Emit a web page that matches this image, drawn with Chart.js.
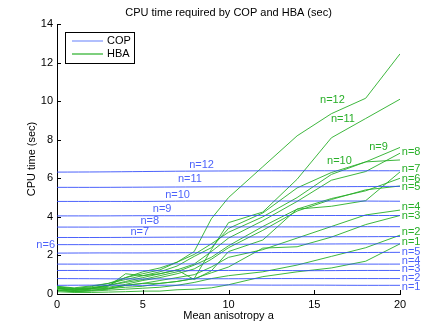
<!DOCTYPE html>
<html>
<head>
<meta charset="utf-8">
<title>CPU time required by COP and HBA</title>
<script src="https://cdn.jsdelivr.net/npm/chart.js@4.4.1/dist/chart.umd.min.js"></script>
<style>
  html, body { margin: 0; padding: 0; background: #fff; }
  #wrap { width: 442px; height: 331px; }
</style>
</head>
<body>
<div id="wrap"><canvas id="cpuChart" width="442" height="331"></canvas></div>
<script>
// Data

// mean anisotropy sample points
const copX = [0, 2.5, 5, 7.5, 10, 12.5, 15, 17.5, 20];
const hbaX = [0, 1, 2, 3, 4, 5, 6, 7, 8, 9, 10, 12, 14, 16, 18, 20];

// COP cpu time (sec), n = 1..12
const cop1  = [0.45, 0.46, 0.45, 0.46, 0.47, 0.46, 0.46, 0.45, 0.45];
const cop2  = [0.80, 0.79, 0.78, 0.79, 0.79, 0.80, 0.80, 0.80, 0.80];
const cop3  = [1.22, 1.22, 1.21, 1.21, 1.22, 1.22, 1.21, 1.22, 1.22];
const cop4  = [1.55, 1.55, 1.56, 1.56, 1.56, 1.56, 1.56, 1.55, 1.55];
const cop5  = [2.12, 2.13, 2.13, 2.14, 2.14, 2.15, 2.15, 2.15, 2.16];
const cop6  = [2.56, 2.56, 2.56, 2.57, 2.58, 2.58, 2.59, 2.60, 2.60];
const cop7  = [2.93, 2.93, 2.94, 2.95, 2.95, 2.96, 2.97, 2.97, 2.98];
const cop8  = [3.47, 3.47, 3.48, 3.48, 3.48, 3.48, 3.48, 3.49, 3.49];
const cop9  = [4.05, 4.05, 4.06, 4.06, 4.07, 4.07, 4.07, 4.07, 4.07];
const cop10 = [4.80, 4.80, 4.80, 4.82, 4.82, 4.82, 4.82, 4.82, 4.81];
const cop11 = [5.53, 5.53, 5.54, 5.55, 5.56, 5.56, 5.56, 5.57, 5.58];
const cop12 = [6.32, 6.33, 6.35, 6.37, 6.38, 6.39, 6.39, 6.39, 6.39];

// HBA cpu time (sec), n = 1..12
const hba1  = [0.12, 0.08, 0.08, 0.10, 0.12, 0.15, 0.15, 0.22, 0.25, 0.32, 0.48, 0.90, 1.15, 1.35, 1.70, 2.60];
const hba2  = [0.18, 0.12, 0.15, 0.20, 0.25, 0.30, 0.35, 0.45, 0.60, 0.80, 0.95, 1.15, 1.50, 1.95, 2.40, 3.05];
const hba3  = [0.22, 0.15, 0.20, 0.28, 0.35, 0.40, 0.55, 0.65, 0.80, 1.10, 1.40, 2.38, 2.45, 2.95, 3.60, 4.07];
const hba4  = [0.28, 0.18, 0.25, 0.30, 0.45, 0.55, 0.70, 0.85, 1.00, 1.40, 1.90, 2.30, 2.90, 3.50, 4.10, 4.35];
const hba5  = [0.32, 0.22, 0.28, 0.35, 0.50, 0.70, 0.85, 1.05, 1.30, 1.80, 2.40, 3.30, 4.30, 4.90, 5.40, 5.60];
const hba6  = [0.38, 0.28, 0.32, 0.45, 0.60, 0.75, 0.95, 1.15, 1.50, 1.90, 2.50, 3.50, 4.40, 4.95, 5.35, 6.00];
const hba7  = [0.30, 0.22, 0.28, 0.40, 1.05, 0.95, 1.05, 1.25, 0.75, 1.20, 2.20, 2.80, 4.40, 4.55, 4.84, 6.33];
const hba8  = [0.28, 0.25, 0.32, 0.45, 0.65, 0.85, 1.05, 1.25, 1.55, 2.20, 2.90, 3.80, 4.80, 5.90, 6.35, 7.30];
const hba9  = [0.35, 0.28, 0.38, 0.55, 0.75, 0.95, 1.15, 1.45, 1.95, 2.40, 3.40, 4.20, 5.50, 6.30, 6.85, 7.60];
const hba10 = [0.40, 0.32, 0.42, 0.55, 0.85, 1.15, 1.35, 1.65, 2.05, 2.60, 3.20, 4.00, 5.00, 6.20, 6.85, 6.95];
const hba11 = [0.20, 0.12, 0.18, 0.25, 0.45, 0.55, 0.55, 0.65, 0.80, 2.30, 3.70, 4.25, 5.95, 8.10, 9.10, 10.10];
const hba12 = [0.30, 0.18, 0.28, 0.45, 0.85, 1.05, 1.25, 1.65, 2.20, 3.90, 5.00, 6.60, 8.20, 9.35, 10.15, 12.45];

const copSeries = [cop1, cop2, cop3, cop4, cop5, cop6, cop7, cop8, cop9, cop10, cop11, cop12];
const hbaSeries = [hba1, hba2, hba3, hba4, hba5, hba6, hba7, hba8, hba9, hba10, hba11, hba12];

// axis ticks
const xTicks = [0, 5, 10, 15, 20];
const yTicks = [0, 2, 4, 6, 8, 10, 12, 14];

// curve labels, placed in data units [text, a, time]
const copLabels = [
    ['n=12', 8.43, 6.70], ['n=11', 7.75, 5.96], ['n=10', 7.03, 5.16],
    ['n=9', 6.13, 4.41], ['n=8', 5.41, 3.80], ['n=7', 4.83, 3.21],
    ['n=6', -0.66, 2.56],
    ['n=5', 20.65, 2.18], ['n=4', 20.65, 1.71], ['n=3', 20.65, 1.28],
    ['n=2', 20.65, 0.83], ['n=1', 20.65, 0.36]
];
const hbaLabels = [
    ['n=12', 16.06, 10.07], ['n=11', 16.67, 9.09], ['n=10', 16.47, 6.90],
    ['n=9', 18.75, 7.64], ['n=8', 20.65, 7.36], ['n=7', 20.65, 6.46],
    ['n=6', 20.65, 5.99], ['n=5', 20.65, 5.56], ['n=4', 20.65, 4.51],
    ['n=3', 20.65, 4.04], ['n=2', 20.65, 3.21], ['n=1', 20.65, 2.70]
];

const COP_COLOR = 'rgba(45, 70, 250, 0.85)';
const HBA_COLOR = 'rgb(40, 175, 40)';
const FONT = '"Liberation Sans", Arial, Helvetica, sans-serif';

function toPoints(xs, ys) {
    return xs.map((x, i) => ({ x: x, y: ys[i] }));
}

const datasets = [];
copSeries.forEach((ys, i) => {
    datasets.push({
        label: 'COP n=' + (i + 1),
        data: toPoints(copX, ys),
        borderColor: COP_COLOR,
        borderWidth: 1,
        pointRadius: 0,
        tension: 0.3,
        fill: false
    });
});
hbaSeries.forEach((ys, i) => {
    datasets.push({
        label: 'HBA n=' + (i + 1),
        data: toPoints(hbaX, ys),
        borderColor: HBA_COLOR,
        borderWidth: 0.9,
        pointRadius: 0,
        tension: 0,
        fill: false
    });
});

// Title, axis titles, inward ticks, curve labels and legend box (MATLAB look)
const matlabDecor = {
    id: 'matlabDecor',
    afterDatasetsDraw(chart) {
        const ctx = chart.ctx;
        const xs = chart.scales.x;
        const ys = chart.scales.y;
        const area = chart.chartArea;
        ctx.save();

        // inward tick marks
        ctx.strokeStyle = '#000';
        ctx.lineWidth = 1;
        ctx.beginPath();
        xTicks.forEach(t => {
            const px = Math.round(xs.getPixelForValue(t)) + 0.5;
            ctx.moveTo(px, area.bottom);
            ctx.lineTo(px, area.bottom - 4);
        });
        yTicks.forEach(t => {
            const py = Math.round(ys.getPixelForValue(t)) + 0.5;
            ctx.moveTo(area.left, py);
            ctx.lineTo(area.left + 4, py);
        });
        ctx.stroke();

        // curve labels
        ctx.font = '11px ' + FONT;
        ctx.textAlign = 'center';
        ctx.textBaseline = 'middle';
        ctx.fillStyle = COP_COLOR;
        copLabels.forEach(l => ctx.fillText(l[0], xs.getPixelForValue(l[1]), ys.getPixelForValue(l[2])));
        ctx.fillStyle = HBA_COLOR;
        hbaLabels.forEach(l => ctx.fillText(l[0], xs.getPixelForValue(l[1]), ys.getPixelForValue(l[2])));

        // legend
        const lx = area.left + 8, ly = area.top + 8, lw = 69, lh = 31;
        ctx.fillStyle = '#fff';
        ctx.fillRect(lx, ly, lw, lh);
        ctx.strokeStyle = '#000';
        ctx.strokeRect(lx + 0.5, ly + 0.5, lw, lh);
        ctx.lineWidth = 1.2;
        ctx.strokeStyle = 'rgba(90, 120, 250, 0.8)';
        ctx.beginPath();
        ctx.moveTo(lx + 7, ly + 9);
        ctx.lineTo(lx + 38, ly + 9);
        ctx.stroke();
        ctx.strokeStyle = HBA_COLOR;
        ctx.beginPath();
        ctx.moveTo(lx + 7, ly + 22);
        ctx.lineTo(lx + 38, ly + 22);
        ctx.stroke();
        ctx.fillStyle = '#000';
        ctx.textAlign = 'left';
        ctx.fillText('COP', lx + 42, ly + 9);
        ctx.fillText('HBA', lx + 42, ly + 22);

        // title and axis titles
        ctx.textAlign = 'center';
        ctx.font = '11px ' + FONT;
        ctx.fillText('CPU time required by COP and HBA (sec)', (area.left + area.right) / 2, 13);
        ctx.fillText('Mean anisotropy a', (area.left + area.right) / 2, 316);
        ctx.translate(32, (area.top + area.bottom) / 2);
        ctx.rotate(-Math.PI / 2);
        ctx.fillText('CPU time (sec)', 0, 0);
        ctx.restore();
    }
};

new Chart(document.getElementById('cpuChart').getContext('2d'), {
    type: 'line',
    data: { datasets: datasets },
    options: {
        responsive: false,
        animation: false,
        events: [],
        layout: { padding: { left: 12, right: 42, top: 24, bottom: 0 } },
        plugins: {
            legend: { display: false },
            tooltip: { enabled: false }
        },
        scales: {
            x: {
                type: 'linear',
                min: 0,
                max: 20,
                afterFit: s => { s.height = 37; },
                afterBuildTicks: s => { s.ticks = xTicks.map(v => ({ value: v })); },
                grid: { display: false, drawTicks: false },
                border: { display: true, color: '#000', width: 1 },
                ticks: { color: '#000', padding: 4, maxRotation: 0, font: { family: FONT, size: 11 } }
            },
            y: {
                type: 'linear',
                min: 0,
                max: 14,
                afterFit: s => { s.width = 45; },
                afterBuildTicks: s => { s.ticks = yTicks.map(v => ({ value: v })); },
                grid: { display: false, drawTicks: false },
                border: { display: true, color: '#000', width: 1 },
                ticks: { color: '#000', padding: 4, font: { family: FONT, size: 11 } }
            }
        }
    },
    plugins: [matlabDecor]
});
</script>
</body>
</html>
